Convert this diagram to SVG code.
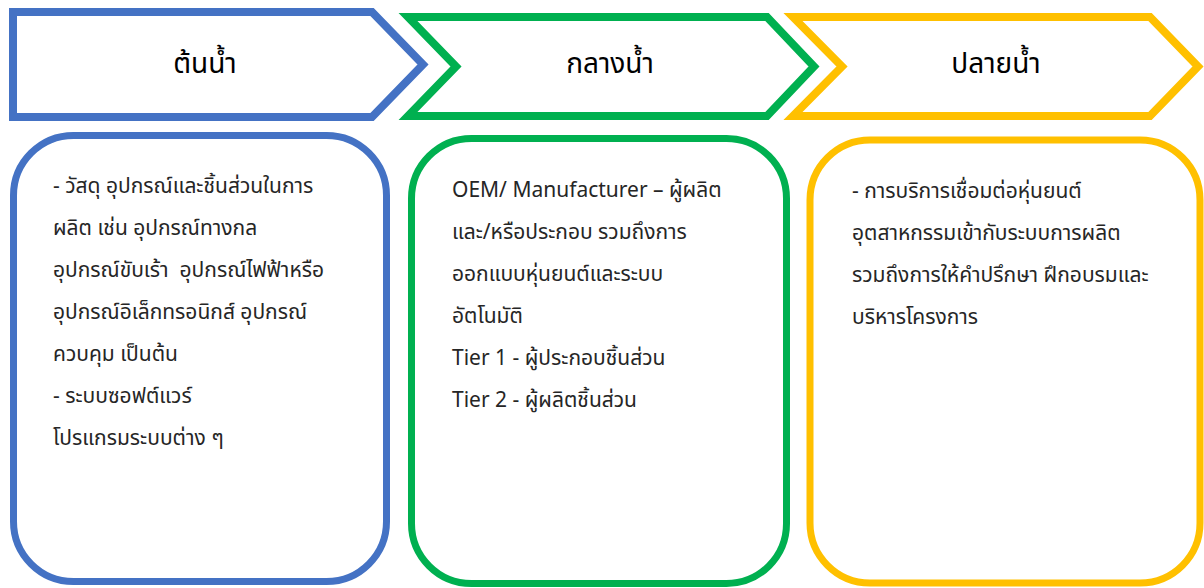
<svg xmlns="http://www.w3.org/2000/svg" width="1204" height="588" viewBox="0 0 1204 588">
<style>
.hdr{fill:none;stroke-width:8;stroke-linejoin:miter}
.box{fill:#fff;stroke-width:7}
.blue{stroke:#4472C4}
.green{stroke:#00B050}
.yellow{stroke:#FFC000}
.ht{font-family:"Noto Sans Thai","Leelawadee UI","Noto Sans",sans-serif;font-size:28px;fill:#000;text-anchor:middle}
.bt{font-family:"Noto Sans Thai","Leelawadee UI","Noto Sans",sans-serif;font-size:21px;fill:#262626;white-space:pre}
</style>
<rect width="1204" height="588" fill="#fff"/>
<g id="header-upstream">
<path class="hdr blue" d="M13,12 L372,12 L423,64.5 L372,117 L13,117 Z"/>
<text class="ht" x="205" y="73">ต้นน้ำ</text>
</g>
<g id="header-midstream">
<path class="hdr green" d="M408,17 L767,17 L814,66.5 L767,116 L408,116 L456,66.5 Z"/>
<text class="ht" x="610" y="73">กลางน้ำ</text>
</g>
<g id="header-downstream">
<path class="hdr yellow" d="M793,17 L1150,17 L1198,66.5 L1150,116 L793,116 L842,66.5 Z"/>
<text class="ht" x="996" y="73">ปลายน้ำ</text>
</g>
<g id="box-upstream">
<rect class="box blue" x="13.5" y="135.5" width="373" height="446" rx="60" ry="60"/>
<text class="bt" x="53" y="193">- วัสดุ อุปกรณ์และชิ้นส่วนในการ</text>
<text class="bt" x="53" y="235">ผลิต เช่น อุปกรณ์ทางกล</text>
<text class="bt" x="53" y="277">อุปกรณ์ขับเร้า  อุปกรณ์ไฟฟ้าหรือ</text>
<text class="bt" x="53" y="319">อุปกรณ์อิเล็กทรอนิกส์ อุปกรณ์</text>
<text class="bt" x="53" y="361">ควบคุม เป็นต้น</text>
<text class="bt" x="53" y="403">- ระบบซอฟต์แวร์</text>
<text class="bt" x="53" y="445">โปรแกรมระบบต่าง ๆ</text>
</g>
<g id="box-midstream">
<rect class="box green" x="411.5" y="138.5" width="375" height="445" rx="60" ry="60"/>
<text class="bt" x="452" y="197">OEM/ Manufacturer – ผู้ผลิต</text>
<text class="bt" x="452" y="239">และ/หรือประกอบ รวมถึงการ</text>
<text class="bt" x="452" y="281">ออกแบบหุ่นยนต์และระบบ</text>
<text class="bt" x="452" y="323">อัตโนมัติ</text>
<text class="bt" x="452" y="365">Tier 1 - ผู้ประกอบชิ้นส่วน</text>
<text class="bt" x="452" y="407">Tier 2 - ผู้ผลิตชิ้นส่วน</text>
</g>
<g id="box-downstream">
<rect class="box yellow" x="810" y="140" width="390" height="443" rx="60" ry="60"/>
<text class="bt" x="852" y="198">- การบริการเชื่อมต่อหุ่นยนต์</text>
<text class="bt" x="852" y="240">อุตสาหกรรมเข้ากับระบบการผลิต</text>
<text class="bt" x="852" y="282">รวมถึงการให้คำปรึกษา ฝึกอบรมและ</text>
<text class="bt" x="852" y="324">บริหารโครงการ</text>
</g>
<g id="connectors"/>
</svg>
